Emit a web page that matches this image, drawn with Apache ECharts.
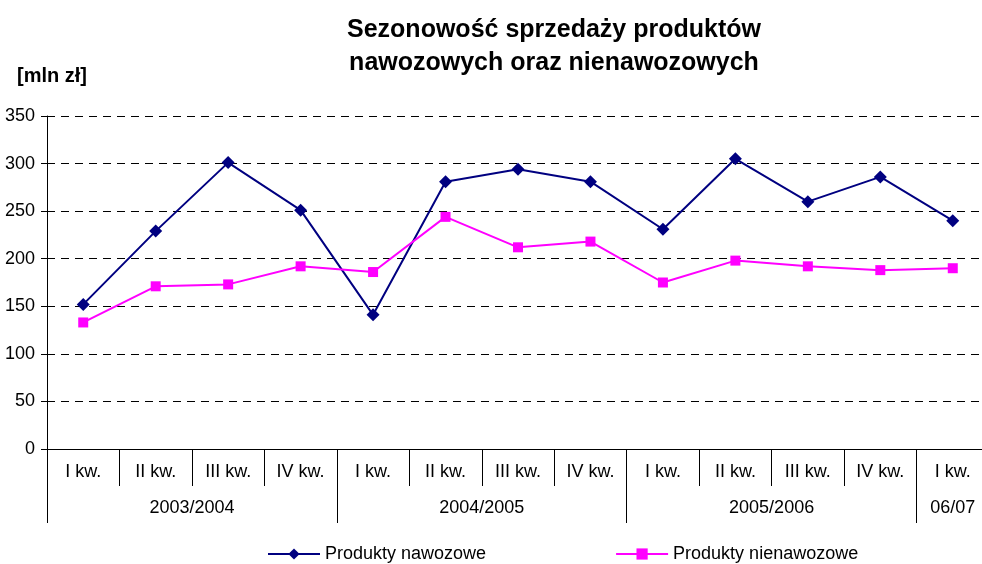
<!DOCTYPE html>
<html>
<head>
<meta charset="utf-8">
<script src="https://cdn.jsdelivr.net/npm/echarts@6/dist/echarts.min.js"></script>
<style>html,body{margin:0;padding:0;background:#fff;overflow:hidden;width:982px;height:564px}#c{width:989px;height:564px}</style>
</head>
<body>
<div id="c"></div>
<script>
const categories = ['I kw.', 'II kw.', 'III kw.', 'IV kw.', 'I kw.', 'II kw.', 'III kw.', 'IV kw.', 'I kw.', 'II kw.', 'III kw.', 'IV kw.', 'I kw.'];
const groupNames = ['2003/2004', '2004/2005', '2005/2006', '06/07'];
const groupSizes = [4, 4, 4, 1];
const nawozowe = [152, 229, 301, 251, 141, 281, 294, 281, 231, 305, 260, 286, 240];
const nienawozowe = [133, 171, 173, 192, 186, 244, 212, 218, 175, 198, 192, 188, 190];
const yTicks = [0, 50, 100, 150, 200, 250, 300, 350];
const seriesNames = ['Produkty nawozowe', 'Produkty nienawozowe'];

// group boundaries and centres derived from group sizes
const groupBounds = [0];
const groupCenters = [];
groupSizes.forEach(function (s) {
  const start = groupBounds[groupBounds.length - 1];
  groupCenters.push(start + s / 2);
  groupBounds.push(start + s);
});

const font = 'Arial, "Liberation Sans", sans-serif';
const chart = echarts.init(document.getElementById('c'), null, {renderer: 'canvas'});
chart.setOption({
  animation: false,
  backgroundColor: '#ffffff',
  title: [{
    text: 'Sezonowość sprzedaży produktów\nnawozowych oraz nienawozowych',
    left: 549, top: 9, textAlign: 'center',
    textStyle: {fontFamily: font, fontSize: 25, fontWeight: 'bold', color: '#000', lineHeight: 33}
  }, {
    text: '[mln zł]', left: 12, top: 61,
    textStyle: {fontFamily: font, fontSize: 20, fontWeight: 'bold', color: '#000'}
  }],
  legend: {
    left: 262, top: 540,
    itemWidth: 52, itemHeight: 14, itemGap: 129,
    textStyle: {fontFamily: font, fontSize: 18, color: '#000'},
    data: seriesNames
  },
  grid: {left: 47, right: 0, top: 116, bottom: 115, containLabel: false},
  xAxis: [{
    type: 'category', data: categories, boundaryGap: true, position: 'bottom',
    axisLine: {show: true, lineStyle: {color: '#000', width: 1}},
    axisTick: {show: true, interval: 0, length: 37, lineStyle: {color: '#000'}},
    axisLabel: {interval: 0, margin: 14, fontFamily: font, fontSize: 18, color: '#000'},
    splitLine: {show: false}
  }, {
    type: 'value', min: 0, max: categories.length, position: 'bottom', offset: 37,
    axisLine: {show: false},
    axisTick: {show: true, customValues: groupBounds, length: 37, lineStyle: {color: '#000'}},
    axisLabel: {
      show: true, customValues: groupCenters, margin: 13,
      fontFamily: font, fontSize: 18, color: '#000',
      formatter: function (v) { const i = groupCenters.indexOf(v); return i >= 0 ? groupNames[i] : ''; }
    },
    splitLine: {show: false}
  }],
  yAxis: {
    type: 'value', min: yTicks[0], max: yTicks[yTicks.length - 1], interval: 50,
    axisLine: {show: true, lineStyle: {color: '#000', width: 1}},
    axisTick: {show: true, length: 6, lineStyle: {color: '#000'}},
    axisLabel: {margin: 12, fontFamily: font, fontSize: 18, color: '#000'},
    splitLine: {show: true, lineStyle: {color: '#000', type: [8, 6], width: 1}}
  },
  series: [{
    name: seriesNames[0], type: 'line', data: nawozowe, xAxisIndex: 0,
    symbol: 'diamond', symbolSize: 13, showAllSymbol: true,
    lineStyle: {color: '#000080', width: 2}, itemStyle: {color: '#000080'}
  }, {
    name: seriesNames[1], type: 'line', data: nienawozowe, xAxisIndex: 0,
    symbol: 'rect', symbolSize: 10, showAllSymbol: true,
    lineStyle: {color: '#FF00FF', width: 2}, itemStyle: {color: '#FF00FF'}
  }]
});
</script>
</body>
</html>
